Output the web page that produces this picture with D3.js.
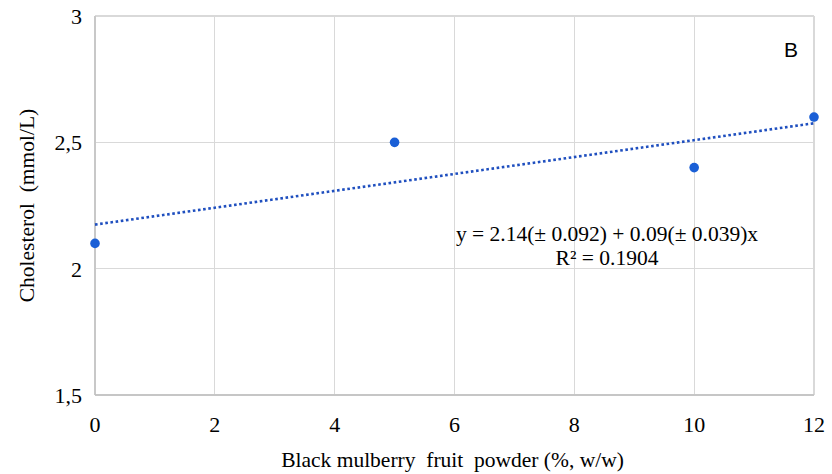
<!DOCTYPE html>
<html><head><meta charset="utf-8">
<script src="https://cdn.jsdelivr.net/npm/d3@7"></script>
<style>body{margin:0;background:#fff}</style>
</head><body>
<script>
const xValues = [0, 5, 10, 12];
const yValues = [2.1, 2.5, 2.4, 2.6];
const xTicks = [0, 2, 4, 6, 8, 10, 12];
const yTicks = [1.5, 2, 2.5, 3];
const equationText = "y = 2.14(± 0.092) + 0.09(± 0.039)x";
const r2Text = "R² = 0.1904";
const panelLabel = "B";
const xTitle = "Black mulberry  fruit  powder (%, w/w)";
const yTitle = "Cholesterol  (mmol/L)";

const W = 832, H = 474;
const m = {left: 95, right: 18, top: 16, bottom: 79};
const svg = d3.select("body").append("svg").attr("width", W).attr("height", H);
const x = d3.scaleLinear().domain([0, 12]).range([m.left, W - m.right]);
const y = d3.scaleLinear().domain([1.5, 3]).range([H - m.bottom, m.top]);
const serif = "'Liberation Serif','Times New Roman',serif";
const grid = "#d9d9d9";

// grid
svg.append("g").selectAll("line.v").data(xTicks).join("line")
  .attr("x1", d => x(d)).attr("x2", d => x(d)).attr("y1", y(3)).attr("y2", y(1.5))
  .attr("stroke", grid).attr("stroke-width", 1.3).attr("shape-rendering", "crispEdges");
svg.append("g").selectAll("line.h").data(yTicks).join("line")
  .attr("y1", d => y(d)).attr("y2", d => y(d)).attr("x1", x(0)).attr("x2", x(12))
  .attr("stroke", grid).attr("stroke-width", 1.3).attr("shape-rendering", "crispEdges");
svg.append("line").attr("x1", x(0)).attr("x2", x(0)).attr("y1", y(3)).attr("y2", y(1.5))
  .attr("stroke", "#bfbfbf").attr("stroke-width", 1.3);
svg.append("line").attr("x1", x(0)).attr("x2", x(12)).attr("y1", y(1.5)).attr("y2", y(1.5))
  .attr("stroke", "#bfbfbf").attr("stroke-width", 1.3);

// tick labels
svg.append("g").selectAll("text").data(xTicks).join("text")
  .attr("x", d => x(d)).attr("y", 432).attr("text-anchor", "middle")
  .attr("font-family", serif).attr("font-size", 22).attr("fill", "#000").text(d => d);
svg.append("g").selectAll("text").data(yTicks).join("text")
  .attr("x", 82).attr("y", d => y(d) + 8).attr("text-anchor", "end")
  .attr("font-family", serif).attr("font-size", 22).attr("fill", "#000")
  .text(d => String(d).replace(".", ","));

// titles
svg.append("text").attr("x", (x(0) + x(12)) / 2 - 2).attr("y", 467).attr("text-anchor", "middle")
  .attr("font-family", serif).attr("font-size", 21.5).attr("fill", "#000")
  .style("white-space", "pre").text(xTitle);
svg.append("text").attr("transform", `translate(34,${(y(3) + y(1.5)) / 2}) rotate(-90)`)
  .attr("text-anchor", "middle")
  .attr("font-family", serif).attr("font-size", 21.5).attr("fill", "#000")
  .style("white-space", "pre").text(yTitle);

// regression line from data
const n = xValues.length;
const mx = d3.mean(xValues), my = d3.mean(yValues);
let sxy = 0, sxx = 0;
for (let i = 0; i < n; i++) { sxy += (xValues[i] - mx) * (yValues[i] - my); sxx += (xValues[i] - mx) ** 2; }
const slope = sxy / sxx, icpt = my - slope * mx;
svg.append("line")
  .attr("x1", x(0)).attr("y1", y(icpt)).attr("x2", x(12)).attr("y2", y(icpt + slope * 12))
  .attr("stroke", "#1f4fbf").attr("stroke-width", 2.6).attr("stroke-dasharray", "2.6,2.6");

// points
svg.append("g").selectAll("circle").data(xValues).join("circle")
  .attr("cx", d => x(d)).attr("cy", (d, i) => y(yValues[i])).attr("r", 4.8)
  .attr("fill", "#1a5fd6");

// equation
svg.append("text").attr("x", 607).attr("y", 241).attr("text-anchor", "middle")
  .attr("font-family", serif).attr("font-size", 21.5).attr("fill", "#000").text(equationText);
svg.append("text").attr("x", 607).attr("y", 265).attr("text-anchor", "middle")
  .attr("font-family", serif).attr("font-size", 21.5).attr("fill", "#000").text(r2Text);

svg.append("text").attr("x", 791).attr("y", 57).attr("text-anchor", "middle")
  .attr("font-family", "'Liberation Sans',sans-serif").attr("font-size", 21).attr("fill", "#000").text(panelLabel);
</script>
</body></html>
